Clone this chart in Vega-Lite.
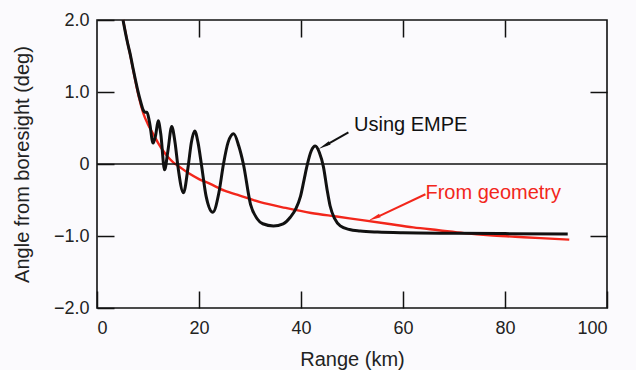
{
  "$schema": "https://vega.github.io/schema/vega-lite/v6.json",
  "width": 510,
  "height": 288,
  "autosize": {"type": "none"},
  "padding": {"left": 97, "top": 20, "right": 29, "bottom": 62},
  "background": "#fbfafd",
  "config": {
    "view": {"stroke": "#111", "strokeWidth": 1.6},
    "font": "Liberation Sans",
    "axis": {
      "domain": false,
      "grid": false,
      "tickColor": "#111",
      "tickWidth": 1.5,
      "tickSize": -17,
      "labelFont": "Liberation Sans",
      "labelFontSize": 18,
      "labelColor": "#222",
      "titleFont": "Liberation Sans",
      "titleFontSize": 20,
      "titleFontWeight": "normal",
      "titleColor": "#222"
    }
  },
  "datasets": {
    "geometry": [
      {"range": 5.1, "angle": 2.0},
      {"range": 5.5, "angle": 1.86},
      {"range": 6.0, "angle": 1.68},
      {"range": 6.5, "angle": 1.52},
      {"range": 7.2, "angle": 1.27},
      {"range": 8.2, "angle": 0.93},
      {"range": 9.1, "angle": 0.7},
      {"range": 10, "angle": 0.55},
      {"range": 11, "angle": 0.42},
      {"range": 12, "angle": 0.29},
      {"range": 13, "angle": 0.18},
      {"range": 14, "angle": 0.09},
      {"range": 15, "angle": 0.02},
      {"range": 16, "angle": -0.03},
      {"range": 18, "angle": -0.13},
      {"range": 20, "angle": -0.21},
      {"range": 22, "angle": -0.27},
      {"range": 25, "angle": -0.37},
      {"range": 28, "angle": -0.44},
      {"range": 32, "angle": -0.53},
      {"range": 37, "angle": -0.61},
      {"range": 42, "angle": -0.68},
      {"range": 47, "angle": -0.73},
      {"range": 52, "angle": -0.78},
      {"range": 57, "angle": -0.83},
      {"range": 62, "angle": -0.88},
      {"range": 67, "angle": -0.92},
      {"range": 72, "angle": -0.96},
      {"range": 77, "angle": -0.99},
      {"range": 82, "angle": -1.01},
      {"range": 87, "angle": -1.03},
      {"range": 92.6, "angle": -1.05}
    ],
    "empe": [
      {"range": 5.1, "angle": 2.0},
      {"range": 5.5, "angle": 1.85},
      {"range": 6.0, "angle": 1.68},
      {"range": 6.5, "angle": 1.53},
      {"range": 7.0, "angle": 1.35},
      {"range": 7.5, "angle": 1.18},
      {"range": 8.0, "angle": 1.02},
      {"range": 8.5, "angle": 0.88},
      {"range": 9.0, "angle": 0.76},
      {"range": 9.4, "angle": 0.72},
      {"range": 9.8, "angle": 0.72},
      {"range": 10.3, "angle": 0.58},
      {"range": 11.0, "angle": 0.29},
      {"range": 11.5, "angle": 0.4},
      {"range": 12.0, "angle": 0.6},
      {"range": 12.5, "angle": 0.42},
      {"range": 13.25, "angle": -0.08},
      {"range": 13.9, "angle": 0.18},
      {"range": 14.65, "angle": 0.52},
      {"range": 15.3, "angle": 0.3},
      {"range": 15.9, "angle": -0.05},
      {"range": 16.95, "angle": -0.4},
      {"range": 17.9, "angle": -0.02},
      {"range": 18.5, "angle": 0.3},
      {"range": 19.15, "angle": 0.46},
      {"range": 19.8, "angle": 0.3},
      {"range": 20.5, "angle": -0.02},
      {"range": 21.4, "angle": -0.45},
      {"range": 22.7, "angle": -0.67},
      {"range": 23.9, "angle": -0.4},
      {"range": 24.8, "angle": 0.0},
      {"range": 25.7, "angle": 0.3},
      {"range": 26.8, "angle": 0.42},
      {"range": 27.8, "angle": 0.25},
      {"range": 28.7, "angle": 0.0},
      {"range": 30.1, "angle": -0.56},
      {"range": 31.4, "angle": -0.76},
      {"range": 32.5, "angle": -0.83},
      {"range": 34.6, "angle": -0.86},
      {"range": 36.5, "angle": -0.83},
      {"range": 37.9, "angle": -0.74},
      {"range": 39.0, "angle": -0.62},
      {"range": 39.9, "angle": -0.45},
      {"range": 40.6, "angle": -0.22},
      {"range": 41.2, "angle": -0.02},
      {"range": 42.0, "angle": 0.18},
      {"range": 42.8, "angle": 0.25},
      {"range": 43.6, "angle": 0.16},
      {"range": 44.4, "angle": -0.04},
      {"range": 45.1, "angle": -0.35},
      {"range": 45.7, "angle": -0.58},
      {"range": 46.6, "angle": -0.76},
      {"range": 47.7, "angle": -0.86},
      {"range": 49.5, "angle": -0.91},
      {"range": 51.6, "angle": -0.93},
      {"range": 55, "angle": -0.945},
      {"range": 60, "angle": -0.955},
      {"range": 70, "angle": -0.962},
      {"range": 80, "angle": -0.967},
      {"range": 92.3, "angle": -0.972}
    ],
    "arrows": [
      {"x": 49.3, "y": 0.44, "x2": 44.8, "y2": 0.26, "hx": 44.9, "hy": 0.265, "dir": 240.6, "color": "black"},
      {"x": 64.4, "y": -0.42, "x2": 54.8, "y2": -0.74, "hx": 54.7, "hy": -0.74, "dir": 245.3, "color": "red"}
    ],
    "labels": [
      {"x": 50.4, "y": 0.46, "text": "Using EMPE", "color": "black"},
      {"x": 64.4, "y": -0.49, "text": "From geometry", "color": "red"}
    ]
  },
  "resolve": {"axis": {"x": "independent", "y": "independent"}},
  "layer": [
    {
      "data": {"name": "geometry"},
      "mark": {"type": "line", "color": "#f2261b", "strokeWidth": 2.4, "interpolate": "monotone"},
      "encoding": {
        "x": {"field": "range", "type": "quantitative",
          "scale": {"domain": [0, 100], "nice": false},
          "axis": {"orient": "bottom", "values": [0, 20, 40, 60, 80, 100], "title": "Range (km)", "labelPadding": 28, "titlePadding": 12}},
        "y": {"field": "angle", "type": "quantitative",
          "scale": {"domain": [-2, 2], "nice": false},
          "axis": {"orient": "left", "values": [-2, -1, 0, 1, 2], "title": "Angle from boresight (deg)", "labelPadding": 25, "titlePadding": 21,
            "labelExpr": "datum.value == 0 ? '0' : format(datum.value, '.1f')"}}
      }
    },
    {
      "data": {"name": "empe"},
      "mark": {"type": "line", "color": "#111", "strokeWidth": 3, "interpolate": "monotone"},
      "encoding": {
        "x": {"field": "range", "type": "quantitative",
          "axis": {"orient": "top", "values": [20, 40, 60, 80], "labels": false, "title": null}},
        "y": {"field": "angle", "type": "quantitative",
          "axis": {"orient": "right", "values": [-1, 1], "labels": false, "title": null}}
      }
    },
    {
      "data": {"values": [{"v": 0}]},
      "mark": {"type": "rule", "color": "#111", "strokeWidth": 1.3},
      "encoding": {
        "y": {"field": "v", "type": "quantitative", "axis": null}
      }
    },
    {
      "data": {"name": "arrows"},
      "mark": {"type": "rule", "strokeWidth": 2},
      "encoding": {
        "x": {"field": "x", "type": "quantitative", "axis": null},
        "y": {"field": "y", "type": "quantitative", "axis": null},
        "x2": {"field": "x2"},
        "y2": {"field": "y2"},
        "color": {"field": "color", "type": "nominal", "scale": {"domain": ["black", "red"], "range": ["#111111", "#f2261b"]}, "legend": null}
      }
    },
    {
      "data": {"name": "arrows"},
      "mark": {"type": "point", "shape": "wedge", "filled": true, "size": 220, "opacity": 1},
      "encoding": {
        "x": {"field": "hx", "type": "quantitative", "axis": null},
        "y": {"field": "hy", "type": "quantitative", "axis": null},
        "angle": {"field": "dir", "type": "quantitative", "scale": null},
        "color": {"field": "color", "type": "nominal", "scale": {"domain": ["black", "red"], "range": ["#111111", "#f2261b"]}, "legend": null}
      }
    },
    {
      "data": {"name": "labels"},
      "mark": {"type": "text", "align": "left", "baseline": "alphabetic", "fontSize": 20, "font": "Liberation Sans"},
      "encoding": {
        "x": {"field": "x", "type": "quantitative", "axis": null},
        "y": {"field": "y", "type": "quantitative", "axis": null},
        "text": {"field": "text"},
        "color": {"field": "color", "type": "nominal", "scale": {"domain": ["black", "red"], "range": ["#222222", "#ee3a2a"]}, "legend": null}
      }
    }
  ]
}
